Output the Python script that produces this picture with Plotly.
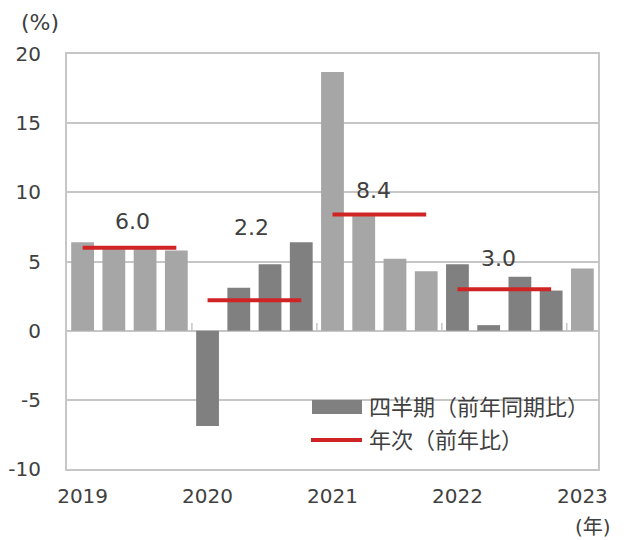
import plotly.graph_objects as go

# ---- data ----
years = [2019, 2019, 2019, 2019, 2020, 2020, 2020, 2020,
         2021, 2021, 2021, 2021, 2022, 2022, 2022, 2022, 2023]
quarter_values = [6.4, 6.1, 6.0, 5.8, -6.9, 3.1, 4.8, 6.4,
                  18.7, 8.3, 5.2, 4.3, 4.8, 0.4, 3.9, 2.9, 4.5]
annual_years = [2019, 2020, 2021, 2022]
annual_values = [6.0, 2.2, 8.4, 3.0]
annual_labels = ["6.0", "2.2", "8.4", "3.0"]
tick_years = ["2019", "2020", "2021", "2022", "2023"]
legend_bar = "四半期（前年同期比）"
legend_line = "年次（前年比）"

# ---- styles ----
LIGHT = "#a6a6a6"
DARK = "#808080"
RED = "#d02424"
GRID = "#c6c6c6"
TXT = "#404040"
FONT = "DejaVu Sans, Noto Sans CJK JP, sans-serif"

W, H = 627, 540
L, R, T, B = 67, 29, 54, 71
pw, ph = W - L - R, H - T - B


def px(xp):
    return (xp - L) / pw


def py(yp):
    return (H - B - yp) / ph


x = list(range(len(quarter_values)))
bar_colors = [LIGHT if (y - 2019) % 2 == 0 else DARK for y in years]

fig = go.Figure()
fig.add_trace(go.Bar(x=x, y=quarter_values, marker=dict(color=bar_colors, line=dict(width=0)),
                     showlegend=False, hoverinfo="y"))

# annual lines: span from first to last quarter of each year
label_dx = [0.1, -0.1, -0.2, -0.2]
label_shift = [26, 73, 24, 31]
for i, (yr, val, lab) in enumerate(zip(annual_years, annual_values, annual_labels)):
    xs = [xi for xi, y in zip(x, years) if y == yr]
    fig.add_trace(go.Scatter(x=[xs[0], xs[-1]], y=[val, val], mode="lines",
                             line=dict(color=RED, width=4), showlegend=False,
                             hoverinfo="y"))
    fig.add_annotation(x=(xs[0] + xs[-1]) / 2 + label_dx[i], y=val, text=lab,
                       showarrow=False, yshift=label_shift[i],
                       font=dict(size=22, color=TXT, family=FONT))

# year boundary ticks on zero line
boundaries = [xi - 0.5 for xi in x[1:] if years[xi] != years[xi - 1]]
for b in boundaries:
    fig.add_shape(type="line", x0=b, x1=b, y0=0, y1=0.55, xref="x", yref="y",
                  line=dict(color=GRID, width=1.5))

tickvals = [x[years.index(int(t))] for t in tick_years]

fig.update_layout(
    width=W, height=H,
    margin=dict(l=L, r=R, t=T, b=B),
    paper_bgcolor="white", plot_bgcolor="white",
    bargap=0.27,
    font=dict(family=FONT, size=20, color=TXT),
    xaxis=dict(range=[-0.5, len(x) - 0.5], tickvals=tickvals, ticktext=tick_years,
               showgrid=False, showline=True, linecolor=GRID, linewidth=2, mirror=True,
               ticks="", ticklabelstandoff=8, zeroline=False, automargin=False,
               tickfont=dict(size=20, color=TXT, family=FONT)),
    yaxis=dict(range=[-10, 20], tickvals=[-10, -5, 0, 5, 10, 15, 20],
               ticktext=["-10", "-5", "0", "5", "10", "15", "20"],
               showgrid=True, gridcolor=GRID, gridwidth=2,
               showline=True, linecolor=GRID, linewidth=2, mirror=True,
               zeroline=True, zerolinecolor=GRID, zerolinewidth=2,
               ticks="", ticklabelstandoff=20, automargin=False,
               tickfont=dict(size=20, color=TXT, family=FONT)),
)

# custom legend
fig.add_shape(type="rect", xref="paper", yref="paper", x0=px(312), x1=px(362),
              y0=py(414), y1=py(400), fillcolor=DARK, line=dict(width=0))
fig.add_shape(type="line", xref="paper", yref="paper", x0=px(311), x1=px(362),
              y0=py(440), y1=py(440), line=dict(color=RED, width=4))
fig.add_annotation(xref="paper", yref="paper", x=px(367), y=py(407), text=legend_bar,
                   showarrow=False, xanchor="left", yanchor="middle",
                   font=dict(size=22, color=TXT, family=FONT))
fig.add_annotation(xref="paper", yref="paper", x=px(367), y=py(440), text=legend_line,
                   showarrow=False, xanchor="left", yanchor="middle",
                   font=dict(size=22, color=TXT, family=FONT))

# unit labels
fig.add_annotation(xref="paper", yref="paper", x=px(40), y=py(22), text="(%)",
                   showarrow=False, xanchor="center", yanchor="middle",
                   font=dict(size=22, color=TXT, family=FONT))
fig.add_annotation(xref="paper", yref="paper", x=px(593), y=py(527), text="(年)",
                   showarrow=False, xanchor="center", yanchor="middle",
                   font=dict(size=20, color=TXT, family=FONT))

fig.write_html("out.html", config={"displayModeBar": False},
               post_script="document.body.style.margin='0';")
